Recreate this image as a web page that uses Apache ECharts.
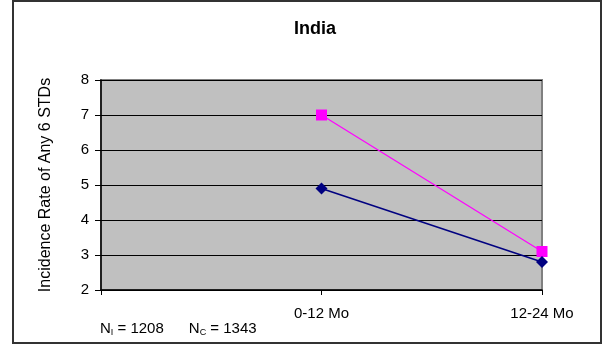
<!DOCTYPE html>
<html>
<head>
<meta charset="utf-8">
<script src="https://cdn.jsdelivr.net/npm/echarts@6/dist/echarts.min.js"></script>
<style>
  html, body { margin: 0; padding: 0; background: #fff; }
  #chart { width: 605px; height: 351px; }
</style>
</head>
<body>
<div id="chart"></div>
<script>
// Follow-up periods (the leading blank slot sits on the y axis)
const periods = ['', '0-12 Mo', '12-24 Mo'];
// Incidence rate of any of 6 STDs per group
const groupC = [null, 7.0, 3.1];
const groupI = [null, 4.9, 2.8];
const yTicks = { min: 2, max: 8, step: 1 };

const FONT = 'Liberation Sans, Arial, sans-serif';
const chart = echarts.init(document.getElementById('chart'), null, { renderer: 'canvas' });

chart.setOption({
  animation: false,
  backgroundColor: '#ffffff',
  title: {
    text: 'India',
    left: 310,
    top: 15,
    textAlign: 'center',
    textStyle: { fontFamily: FONT, fontSize: 18, fontWeight: 'bold', color: '#000' }
  },
  grid: {
    left: 101, right: 63, top: 80, bottom: 61,
    show: true,
    backgroundColor: '#c0c0c0',
    borderColor: '#808080',
    borderWidth: 2
  },
  xAxis: {
    type: 'category',
    data: periods,
    boundaryGap: false,
    axisLine: { show: true, lineStyle: { color: '#000', width: 1.5 } },
    axisTick: { show: true, length: 5, lineStyle: { color: '#000' } },
    axisLabel: { margin: 16, fontFamily: FONT, fontSize: 15, color: '#000' },
    splitLine: { show: false }
  },
  yAxis: {
    type: 'value',
    min: yTicks.min,
    max: yTicks.max,
    interval: yTicks.step,
    name: 'Incidence Rate of Any 6 STDs',
    nameLocation: 'middle',
    nameRotate: 90,
    nameGap: 47,
    nameTextStyle: { fontFamily: FONT, fontSize: 16, color: '#000' },
    axisLine: { show: true, lineStyle: { color: '#000', width: 1.5 } },
    axisTick: { show: true, length: 6, lineStyle: { color: '#000' } },
    axisLabel: { margin: 12, fontFamily: FONT, fontSize: 15, color: '#000' },
    splitLine: { show: true, lineStyle: { color: '#000', width: 1 } }
  },
  series: [
    {
      name: 'C',
      type: 'line',
      data: groupC,
      symbol: 'rect',
      symbolSize: 11,
      lineStyle: { color: '#ff00ff', width: 1.2 },
      itemStyle: { color: '#ff00ff' }
    },
    {
      name: 'I',
      type: 'line',
      data: groupI,
      symbol: 'diamond',
      symbolSize: 12,
      lineStyle: { color: '#000080', width: 1.5 },
      itemStyle: { color: '#000080' }
    }
  ],
  graphic: [
    {
      type: 'rect',
      shape: { x: 13, y: 1, width: 588, height: 342 },
      style: { fill: 'none', stroke: '#333', lineWidth: 2 },
      silent: true
    },
    {
      type: 'text',
      left: 100,
      top: 321,
      style: {
        text: '{a|N}{s|I}{a| = 1208      N}{s|C}{a| = 1343}',
        rich: {
          a: { fontFamily: FONT, fontSize: 15, lineHeight: 18, color: '#000', verticalAlign: 'bottom' },
          s: { fontFamily: FONT, fontSize: 9, lineHeight: 18, color: '#000', verticalAlign: 'bottom', padding: [0, 0, -1, 0] }
        }
      }
    }
  ]
});
</script>
</body>
</html>
